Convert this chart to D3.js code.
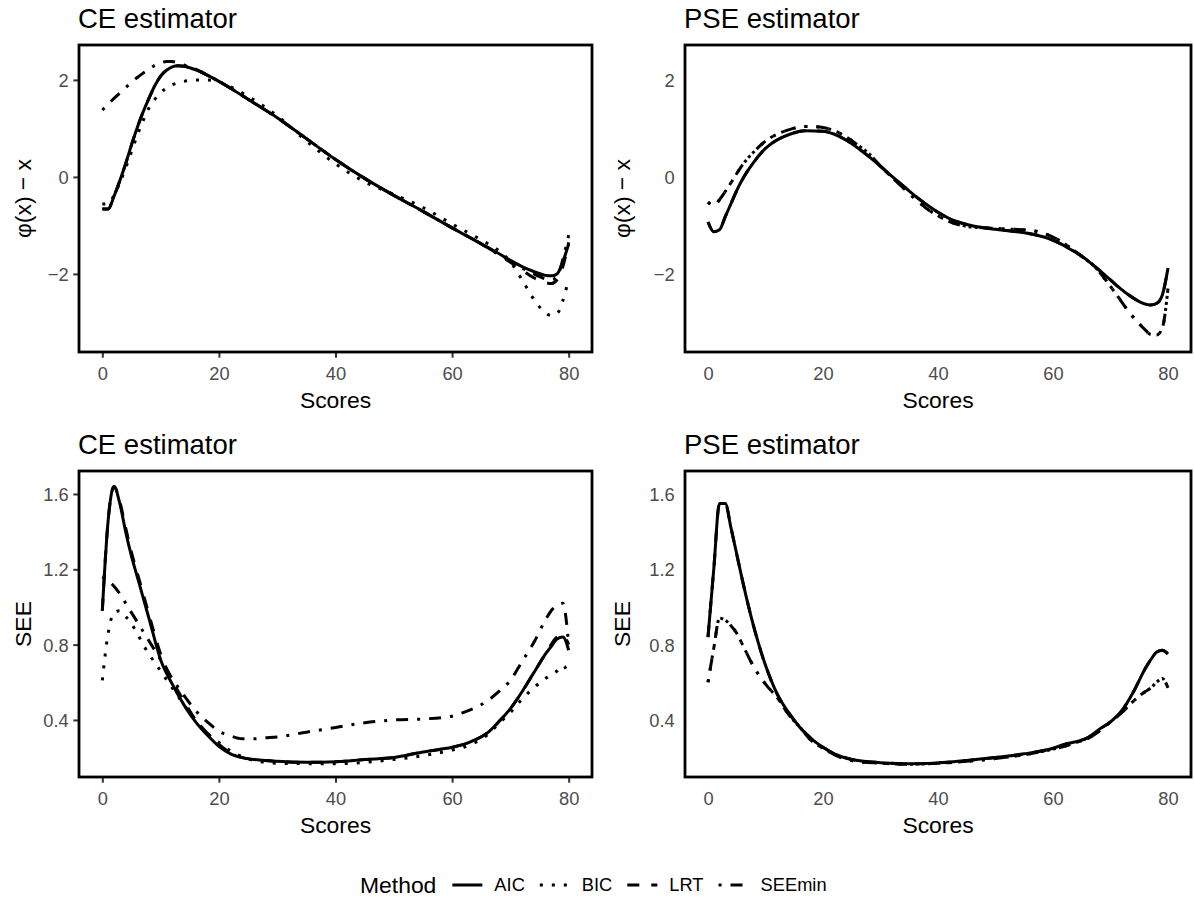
<!DOCTYPE html>
<html><head><meta charset="utf-8">
<script src="https://cdn.jsdelivr.net/npm/d3@7"></script>
<style>body{margin:0;background:#fff}svg{display:block}</style>
</head><body>
<script>
// ---------- data ----------
const methods = ["AIC", "BIC", "LRT", "SEEmin"];
const xTicks = [0, 20, 40, 60, 80];
const phiTicks = [-2, 0, 2];
const seeTicks = [0.4, 0.8, 1.2, 1.6];

// CE estimator, phi(x) - x
const xCEphi = [0,1,2,3,4,5,6,7,8,9,10,11,12,13,14,15,16,18,20,22,25,30,35,40,45,50,55,60,65,68,70,72,74,76,77,78,79,80];
const ceAICphi = [-0.66,-0.66,-0.40,-0.08,0.27,0.66,1.02,1.34,1.62,1.88,2.08,2.20,2.27,2.29,2.28,2.25,2.21,2.10,1.97,1.83,1.60,1.22,0.79,0.36,-0.03,-0.38,-0.71,-1.05,-1.38,-1.58,-1.72,-1.85,-1.95,-2.03,-2.04,-2.00,-1.75,-1.38];
const ceBICphi = [-0.56,-0.55,-0.38,-0.12,0.18,0.52,0.86,1.16,1.42,1.60,1.74,1.83,1.90,1.94,1.97,1.99,2.00,2.00,1.96,1.86,1.66,1.26,0.74,0.27,-0.10,-0.36,-0.63,-0.97,-1.30,-1.52,-1.75,-2.12,-2.52,-2.80,-2.86,-2.82,-2.55,-2.10];
const ceLRTphi = [-0.66,-0.66,-0.40,-0.08,0.27,0.66,1.02,1.34,1.62,1.88,2.08,2.20,2.27,2.29,2.28,2.25,2.21,2.10,1.97,1.83,1.60,1.22,0.79,0.36,-0.03,-0.38,-0.71,-1.05,-1.38,-1.60,-1.76,-1.92,-2.08,-2.18,-2.20,-2.12,-1.85,-1.35];
const ceSEEminPhi = [1.38,1.50,1.62,1.73,1.84,1.95,2.05,2.14,2.22,2.30,2.35,2.38,2.38,2.35,2.31,2.26,2.22,2.10,1.97,1.83,1.60,1.22,0.79,0.36,-0.03,-0.38,-0.71,-1.05,-1.38,-1.60,-1.74,-1.88,-2.00,-2.10,-2.12,-2.06,-1.70,-1.20];

// PSE estimator, phi(x) - x
const xPSEphi = [0,1,2,3,4,5,6,8,10,12,14,17,20,22,24,26,28,30,32,34,36,38,40,42,45,48,50,53,56,59,61,63,65,67,69,71,73,75,76,77,78,79,80];
const pseAICphi = [-0.93,-1.13,-1.09,-0.82,-0.55,-0.28,-0.05,0.31,0.59,0.76,0.87,0.95,0.94,0.88,0.76,0.60,0.42,0.22,0.01,-0.19,-0.39,-0.57,-0.73,-0.86,-0.98,-1.05,-1.08,-1.12,-1.17,-1.26,-1.36,-1.49,-1.63,-1.82,-2.02,-2.23,-2.42,-2.57,-2.62,-2.64,-2.61,-2.44,-1.88];
const pseBICphi = [-0.52,-0.59,-0.47,-0.30,-0.12,0.07,0.25,0.52,0.74,0.88,0.97,1.04,1.02,0.95,0.83,0.66,0.48,0.22,-0.01,-0.23,-0.45,-0.65,-0.80,-0.92,-1.02,-1.05,-1.06,-1.08,-1.10,-1.19,-1.30,-1.46,-1.64,-1.82,-2.10,-2.42,-2.75,-3.03,-3.15,-3.25,-3.26,-3.12,-2.30];
const pseLRTphi = [-0.93,-1.13,-1.09,-0.82,-0.55,-0.28,-0.05,0.31,0.59,0.76,0.87,0.95,0.94,0.88,0.76,0.60,0.42,0.22,0.01,-0.19,-0.39,-0.57,-0.73,-0.86,-0.98,-1.05,-1.08,-1.12,-1.17,-1.26,-1.36,-1.49,-1.63,-1.82,-2.02,-2.23,-2.42,-2.57,-2.62,-2.64,-2.61,-2.44,-1.88];
const pseSEEminPhi = [-0.52,-0.59,-0.47,-0.30,-0.12,0.07,0.25,0.52,0.74,0.88,0.97,1.04,1.02,0.95,0.83,0.66,0.48,0.22,-0.01,-0.23,-0.45,-0.65,-0.80,-0.92,-1.02,-1.05,-1.06,-1.08,-1.10,-1.19,-1.30,-1.46,-1.64,-1.82,-2.10,-2.42,-2.75,-3.03,-3.15,-3.25,-3.26,-3.12,-2.30];

// CE estimator, SEE
const xCEsee = [0,1,2,3,4,5,6,7,8,10,12,14,16,18,20,22,24,26,28,30,35,40,45,50,55,60,62,64,66,68,70,72,74,76,77,78,79,80];
const ceAICsee = [0.98,1.46,1.64,1.55,1.40,1.27,1.16,1.05,0.94,0.72,0.59,0.48,0.39,0.32,0.26,0.22,0.20,0.19,0.185,0.18,0.175,0.178,0.19,0.20,0.23,0.255,0.27,0.295,0.33,0.39,0.46,0.55,0.65,0.75,0.79,0.83,0.84,0.77];
const ceBICsee = [0.61,0.86,0.97,0.98,0.95,0.91,0.86,0.80,0.75,0.66,0.57,0.48,0.40,0.33,0.28,0.235,0.205,0.185,0.175,0.17,0.168,0.167,0.175,0.19,0.21,0.24,0.255,0.28,0.32,0.38,0.44,0.51,0.57,0.62,0.64,0.66,0.69,0.64];
const ceLRTsee = [0.98,1.46,1.64,1.56,1.42,1.29,1.18,1.07,0.96,0.75,0.61,0.50,0.40,0.33,0.27,0.225,0.20,0.19,0.185,0.18,0.175,0.178,0.19,0.20,0.23,0.255,0.27,0.295,0.33,0.39,0.46,0.55,0.65,0.75,0.80,0.84,0.85,0.80];
const ceSEEminSee = [1.16,1.14,1.11,1.07,1.02,0.97,0.92,0.87,0.82,0.72,0.62,0.53,0.45,0.39,0.34,0.315,0.30,0.30,0.305,0.31,0.335,0.36,0.385,0.40,0.405,0.42,0.44,0.465,0.50,0.55,0.61,0.71,0.81,0.93,0.98,1.01,1.02,0.80];

// PSE estimator, SEE
const xPSEsee = [0,1,2,3,4,5,6,8,10,12,14,16,18,20,22,25,30,35,40,45,50,55,60,62,64,66,68,70,72,74,76,77,78,79,80];
const pseAICsee = [0.84,1.20,1.55,1.55,1.42,1.28,1.14,0.89,0.69,0.54,0.44,0.36,0.30,0.255,0.22,0.19,0.173,0.167,0.172,0.185,0.20,0.22,0.25,0.27,0.285,0.305,0.35,0.39,0.45,0.55,0.67,0.72,0.76,0.77,0.75];
const pseBICsee = [0.60,0.78,0.94,0.93,0.90,0.86,0.80,0.68,0.59,0.52,0.43,0.36,0.29,0.25,0.215,0.185,0.17,0.165,0.17,0.18,0.195,0.215,0.245,0.26,0.28,0.30,0.34,0.39,0.44,0.50,0.55,0.57,0.60,0.62,0.57];
const pseLRTsee = [0.84,1.20,1.55,1.55,1.42,1.28,1.14,0.89,0.69,0.54,0.44,0.36,0.30,0.255,0.22,0.19,0.173,0.167,0.172,0.185,0.20,0.22,0.25,0.27,0.285,0.305,0.35,0.39,0.45,0.55,0.67,0.72,0.76,0.77,0.75];
const pseSEEminSee = [0.60,0.78,0.94,0.93,0.90,0.86,0.80,0.68,0.59,0.52,0.43,0.36,0.29,0.25,0.215,0.185,0.17,0.165,0.17,0.18,0.195,0.215,0.245,0.26,0.28,0.30,0.34,0.39,0.44,0.50,0.55,0.57,0.60,0.62,0.57];

// ---------- layout ----------
const W = 1194, H = 903;
const FONT = "'Liberation Sans', Arial, Helvetica, sans-serif";
const LW = 3;
const dashes = {AIC: null, BIC: "3 9", LRT: "12 12", SEEmin: "3 9 12 9"};

const cols = [{l: 79, r: 592, ylab: 23, ticks: true}, {l: 685, r: 1191, ylab: 622, ticks: false}];
const rows = [{t: 45, b: 352, domain: [-3.61, 2.72], ticks: phiTicks, fmt: d => d < 0 ? "\u2212" + Math.abs(d) : String(d), ytitle: "\u03C6(x) \u2212 x"},
              {t: 471, b: 777, domain: [0.097, 1.722], ticks: seeTicks, fmt: d3.format(".1f"), ytitle: "SEE"}];

const panels = [
  {r: 0, c: 0, title: "CE estimator", x: xCEphi, ys: [ceAICphi, ceBICphi, ceLRTphi, ceSEEminPhi]},
  {r: 0, c: 1, title: "PSE estimator", x: xPSEphi, ys: [pseAICphi, pseBICphi, pseLRTphi, pseSEEminPhi]},
  {r: 1, c: 0, title: "CE estimator", x: xCEsee, ys: [ceAICsee, ceBICsee, ceLRTsee, ceSEEminSee]},
  {r: 1, c: 1, title: "PSE estimator", x: xPSEsee, ys: [pseAICsee, pseBICsee, pseLRTsee, pseSEEminSee]}
];

const svg = d3.select("body").append("svg").attr("width", W).attr("height", H)
  .style("font-family", FONT);

panels.forEach(p => {
  const col = cols[p.c], row = rows[p.r];
  const x = d3.scaleLinear().domain([-4, 84]).range([col.l, col.r]);
  const y = d3.scaleLinear().domain(row.domain).range([row.b, row.t]);
  const g = svg.append("g");

  g.append("text").attr("x", col.l - 1).attr("y", row.t - 17)
    .attr("font-size", 27.5).attr("fill", "#000").text(p.title);

  const clipId = "clip" + p.r + p.c;
  g.append("clipPath").attr("id", clipId).append("rect")
    .attr("x", col.l).attr("y", row.t).attr("width", col.r - col.l).attr("height", row.b - row.t);
  const line = d3.line().x(d => x(d[0])).y(d => y(d[1])).curve(d3.curveMonotoneX);
  methods.forEach((m, i) => {
    const pts = p.x.map((xv, k) => [xv, p.ys[i][k]]);
    g.append("path").attr("d", line(pts)).attr("clip-path", `url(#${clipId})`)
      .attr("fill", "none").attr("stroke", "#000").attr("stroke-width", LW)
      .attr("stroke-linecap", "butt").attr("stroke-linejoin", "round")
      .attr("stroke-dasharray", dashes[m]);
  });

  const tickLen = col.ticks ? 5.7 : 0;
  const xAxis = d3.axisBottom(x).tickValues(xTicks).tickSize(tickLen).tickPadding(col.ticks ? 5 : 10.7).tickFormat(d3.format("d"));
  const yAxis = d3.axisLeft(y).tickValues(row.ticks).tickSize(tickLen).tickPadding(col.ticks ? 4.6 : 10.3).tickFormat(row.fmt);
  const gx = g.append("g").attr("transform", `translate(0,${row.b})`).call(xAxis);
  const gy = g.append("g").attr("transform", `translate(${col.l},0)`).call(yAxis);
  [gx, gy].forEach(a => {
    a.select(".domain").remove();
    a.selectAll(".tick line").attr("stroke", "#333333").attr("stroke-width", 2);
    a.selectAll(".tick text").attr("fill", "#4d4d4d").attr("font-size", 18.3).attr("font-family", FONT);
  });
  gx.selectAll(".tick text").attr("dy", "0.95em");
  gy.selectAll(".tick text").attr("dy", "0.36em");

  g.append("rect").attr("x", col.l).attr("y", row.t)
    .attr("width", col.r - col.l).attr("height", row.b - row.t)
    .attr("fill", "none").attr("stroke", "#000").attr("stroke-width", 2.8);

  g.append("text").attr("x", (col.l + col.r) / 2).attr("y", row.b + 56)
    .attr("text-anchor", "middle").attr("font-size", 22.9).attr("fill", "#000").text("Scores");
  g.append("text").attr("transform", `translate(${col.ylab},${(row.t + row.b) / 2}) rotate(-90)`)
    .attr("text-anchor", "middle").attr("dy", "0.35em").attr("font-size", 22.9).attr("fill", "#000").text(row.ytitle);
});

// legend
const lg = svg.append("g").attr("transform", "translate(0,885)");
let cursor = 360;
const lt = lg.append("text").attr("x", cursor).attr("dy", "0.35em").attr("font-size", 22.9).text("Method");
cursor += lt.node().getComputedTextLength() + 12;
methods.forEach(m => {
  lg.append("line").attr("x1", cursor + 4).attr("x2", cursor + 34).attr("y1", 0).attr("y2", 0)
    .attr("stroke", "#000").attr("stroke-width", LW).attr("stroke-dasharray", dashes[m]);
  const t = lg.append("text").attr("x", cursor + 46).attr("dy", "0.35em").attr("font-size", 18.3).text(m);
  cursor += 46 + t.node().getComputedTextLength() + 11;
});
</script>
</body></html>
